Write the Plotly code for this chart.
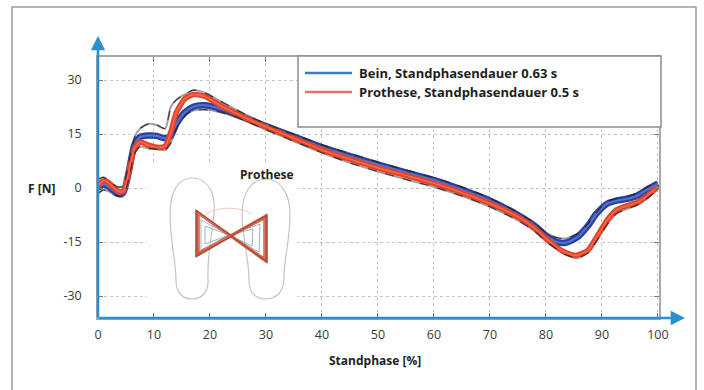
import plotly.graph_objects as go

# ---------------- data ----------------
stance_pct = [0, 1, 2, 3.5, 4.5, 5.5, 6.5, 7.5, 9, 10.5, 12, 13, 14, 15.5, 17, 19, 22, 25, 28, 30,
              35, 40, 45, 50, 55, 60, 65, 70, 75, 78, 80, 82, 83.5, 85.5, 87.5, 89, 91, 92.7,
              94.5, 96.2, 98, 100]

prothese_force = [0.5, 2.2, 1.3, -0.8, -1.0, 4.5, 11.0, 12.8, 11.9, 11.3, 11.6, 15.5, 21.0, 24.8, 26.0,
                  25.5, 22.8, 20.5, 18.3, 17.0, 13.8, 10.6, 8.0, 5.6, 3.5, 1.3, -1.3, -4.3, -8.0,
                  -11.2, -14.0, -16.5, -17.9, -18.7, -17.3, -13.8, -8.8, -6.0, -4.9, -4.1, -2.3, 0.4]

bein_force = [0.0, 1.0, 0.3, -1.5, -1.3, 4.5, 12.0, 14.2, 14.6, 14.5, 13.8, 14.5, 17.8, 21.0, 22.6,
              23.0, 22.0, 20.3, 18.4, 17.2, 14.3, 11.3, 8.8, 6.5, 4.3, 2.2, -0.5, -3.5, -7.5,
              -10.5, -13.3, -15.0, -15.2, -13.8, -10.5, -7.2, -4.3, -3.5, -3.0, -2.2, -0.5, 1.2]

trials_upper = [2.5, 3.0, 2.0, 0.3, 0.5, 7.0, 14.0, 16.5, 17.8, 17.5, 16.5, 22.5, 24.5, 26.0, 27.2,
                26.5, 24.0, 21.5, 19.2, 17.8, 14.8, 12.0, 9.6, 7.2, 5.0, 2.9, 0.3, -2.8, -6.8,
                -9.8, -12.3, -13.8, -14.0, -12.8, -10.0, -6.8, -3.8, -2.8, -2.3, -1.5, 0.2, 1.8]

trials_lower = [-1.5, -0.5, -1.0, -2.3, -2.3, 2.5, 9.5, 11.5, 11.0, 10.8, 10.5, 12.5, 16.5, 20.0, 21.5,
                21.8, 21.0, 19.5, 17.5, 16.2, 13.0, 9.8, 7.0, 4.6, 2.4, 0.3, -2.2, -5.2, -9.0,
                -12.0, -14.8, -17.0, -18.5, -19.5, -18.0, -14.8, -10.0, -7.0, -5.8, -4.8, -3.0, -0.3]

x_ticks = [0, 10, 20, 30, 40, 50, 60, 70, 80, 90, 100]
y_ticks = [-30, -15, 0, 15, 30]
legend_labels = ["Bein, Standphasendauer 0.63 s", "Prothese, Standphasendauer 0.5 s"]

# ---------------- layout geometry ----------------
W, H = 704, 390
L, R, T, B = 98, 659, 57, 318
XR = [0, 100.2]
YR = [-36.1, 36.4]


def pp(px, py):
    """pixel -> paper"""
    return (px - L) / (R - L), (B - py) / (B - T)


def pd(px, py):
    """pixel -> data"""
    x = XR[0] + (px - L) / (R - L) * (XR[1] - XR[0])
    y = YR[1] - (py - T) / (B - T) * (YR[1] - YR[0])
    return x, y


def path_from(cmds):
    out = []
    for c in cmds:
        if isinstance(c, str):
            out.append(c)
        else:
            x, y = pd(*c)
            out.append(f"{x:.3f},{y:.3f}")
    return " ".join(out)


fig = go.Figure()
SPL = dict(shape="spline", smoothing=0.6)

# individual trials (gray + black dashed)
for ys in (trials_upper, trials_lower):
    fig.add_trace(go.Scatter(x=stance_pct, y=ys, mode="lines", line=dict(color="#a0a0a0", width=2.0, **SPL),
                             showlegend=False, hoverinfo="skip"))

# Bein bundle
fig.add_trace(go.Scatter(x=stance_pct, y=bein_force, mode="lines", line=dict(color="#2c3f9c", width=6.5, **SPL),
                         showlegend=False, hoverinfo="skip"))
fig.add_trace(go.Scatter(x=stance_pct, y=bein_force, mode="lines", line=dict(color="#4f74cf", width=2.2, **SPL),
                         showlegend=False, hoverinfo="skip"))
# Prothese bundle
fig.add_trace(go.Scatter(x=stance_pct, y=prothese_force, mode="lines", line=dict(color="#e2432c", width=5.5, **SPL),
                         showlegend=False, hoverinfo="skip"))
fig.add_trace(go.Scatter(x=stance_pct, y=prothese_force, mode="lines", line=dict(color="#f36a48", width=1.6, **SPL),
                         showlegend=False, hoverinfo="skip"))

for ys in (trials_upper, trials_lower):
    fig.add_trace(go.Scatter(x=stance_pct, y=ys, mode="lines",
                             line=dict(color="#222222", width=1.2, dash="dash", **SPL),
                             opacity=0.8, showlegend=False, hoverinfo="skip"))

shapes = []
# outer frame
x0, y0 = pp(12, 7)
x1, y1 = pp(696, 396)
shapes.append(dict(type="rect", xref="paper", yref="paper", x0=x0, y0=y1, x1=x1, y1=y0,
                   line=dict(color="#9c9c9c", width=1.5), fillcolor="rgba(0,0,0,0)", layer="below"))

# white mask behind inset
ax0, ay0 = pd(147, 312)
ax1, ay1 = pd(297, 163)
shapes.append(dict(type="rect", xref="x", yref="y", x0=ax0, y0=ay0, x1=ax1, y1=ay1,
                   line=dict(width=0), fillcolor="white", layer="between"))

# feet outlines
left_foot = ["M", (192, 178), "C", (207, 178), (216, 192), (214, 214), "C", (212, 236), (207, 255), (208, 278),
             "C", (209, 292), (202, 299), (192, 299), "C", (182, 299), (176, 292), (176, 280),
             "C", (176, 262), (170, 240), (170, 214), "C", (170, 192), (178, 178), (192, 178), "Z"]
right_foot = ["M", (266, 179), "C", (280, 179), (290, 193), (290, 214), "C", (290, 240), (284, 258), (284, 278),
              "C", (284, 292), (276, 299), (266, 299), "C", (255, 299), (249, 292), (249, 280),
              "C", (249, 258), (242, 236), (242, 214), "C", (242, 192), (252, 179), (266, 179), "Z"]
for fp in (left_foot, right_foot):
    shapes.append(dict(type="path", xref="x", yref="y", path=path_from(fp),
                       line=dict(color="#c4c4c4", width=1.2), layer="above"))

# butterfly (COP path) - gray inner loops
inner = [
    ["M", (201, 220), "L", (229, 235), "L", (259, 252), "L", (260, 224), "L", (229, 235), "L", (201, 250), "Z"],
    ["M", (205, 226), "L", (229, 235), "L", (252, 246), "L", (253, 229), "L", (229, 235), "L", (205, 244), "Z"],
]
for ip in inner:
    shapes.append(dict(type="path", xref="x", yref="y", path=path_from(ip),
                       line=dict(color="#9fb3bd", width=1), layer="above"))
shapes.append(dict(type="path", xref="x", yref="y",
                   path=path_from(["M", (204, 216), "C", (215, 206), (240, 206), (252, 214)]),
                   line=dict(color="#efc9bd", width=1), layer="above"))
outer_loops = [
    (["M", (197, 212), "L", (266, 261), "L", (266, 216), "L", (197, 255), "Z"], "#c65a43", 3.2),
    (["M", (199, 214), "L", (264, 258), "L", (264, 219), "L", (199, 252), "Z"], "#d8694f", 1.6),
    (["M", (196, 210), "L", (267, 262), "L", (267, 215), "L", (196, 257), "Z"], "#9c4a3a", 1.0),
]
for op, col, wdt in outer_loops:
    shapes.append(dict(type="path", xref="x", yref="y", path=path_from(op),
                       line=dict(color=col, width=wdt), layer="above"))

# legend box
lx0, ly0 = pp(298, 127)
lx1, ly1 = pp(661, 56)
shapes.append(dict(type="rect", xref="paper", yref="paper", x0=lx0, y0=ly0, x1=lx1, y1=ly1,
                   line=dict(color="#8c8c8c", width=1.5), fillcolor="white", layer="above"))
legend_colors = ["#3a7cc6", "#e0785a"]
legend_rows = [73, 92]
for col, row in zip(legend_colors, legend_rows):
    a, b = pp(305, row)
    c, _ = pp(352, row)
    shapes.append(dict(type="line", xref="paper", yref="paper", x0=a, y0=b, x1=c, y1=b,
                       line=dict(color=col, width=2.5), layer="above"))

annotations = []
for text, row in zip(legend_labels, legend_rows):
    a, b = pp(357, row)
    annotations.append(dict(xref="paper", yref="paper", x=a, y=b, text=f"<b>{text}</b>", showarrow=False,
                            xanchor="left", yanchor="middle",
                            font=dict(family="Open Sans", size=13, color="#1e1e1e")))

# axis arrows
hx, hy = pp(685, 318)
annotations.append(dict(xref="paper", yref="paper", x=hx, y=hy, ax=-(685 - 97), ay=0, text="",
                        showarrow=True, arrowhead=2, arrowsize=1.1, arrowwidth=2.6, arrowcolor="#2b8fcd"))
vx, vy = pp(98, 36)
annotations.append(dict(xref="paper", yref="paper", x=vx, y=vy, ax=0, ay=(319 - 36), text="",
                        showarrow=True, arrowhead=2, arrowsize=1.1, arrowwidth=2.6, arrowcolor="#2b8fcd"))

# axis titles and inset label
fx, fy = pp(41, 188)
annotations.append(dict(xref="paper", yref="paper", x=fx, y=fy, text="<b>F [N]</b>", showarrow=False,
                        xanchor="center", yanchor="middle", font=dict(family="Open Sans", size=12, color="#222")))
sx, sy = pp(375, 360)
annotations.append(dict(xref="paper", yref="paper", x=sx, y=sy, text="<b>Standphase [%]</b>", showarrow=False,
                        xanchor="center", yanchor="middle", font=dict(family="Open Sans", size=12, color="#222")))
px_, py_ = pp(267, 174)
annotations.append(dict(xref="paper", yref="paper", x=px_, y=py_, text="<b>Prothese</b>", showarrow=False,
                        xanchor="center", yanchor="middle", font=dict(family="Open Sans", size=12, color="#222")))

fig.update_layout(
    width=W, height=H, autosize=False,
    margin=dict(l=L, r=W - R, t=T, b=H - B, pad=0),
    paper_bgcolor="white", plot_bgcolor="white",
    showlegend=False,
    shapes=shapes, annotations=annotations,
    font=dict(family="Open Sans", size=12, color="#333"),
)
fig.update_xaxes(range=XR, tickmode="array", tickvals=x_ticks, ticktext=[str(v) for v in x_ticks],
                 showgrid=True, gridcolor="#c4c4c4", griddash="dot", gridwidth=1, zeroline=False,
                 showline=True, linecolor="#a8a8a8", linewidth=1.5, mirror="ticks",
                 ticks="inside", ticklen=5, tickcolor="#777", ticklabelstandoff=4,
                 tickfont=dict(family="Open Sans", size=12.5, color="#3a3a3a"))
fig.update_yaxes(range=YR, tickmode="array", tickvals=y_ticks, ticktext=[str(v) for v in y_ticks],
                 showgrid=True, gridcolor="#c4c4c4", griddash="dot", gridwidth=1, zeroline=False,
                 showline=True, linecolor="#a8a8a8", linewidth=1.5, mirror="ticks",
                 ticks="inside", ticklen=5, tickcolor="#777", ticklabelstandoff=12,
                 tickfont=dict(family="Open Sans", size=12.5, color="#3a3a3a"))

fig.write_html("out.html", config={"displayModeBar": False},
               post_script="document.body.style.margin='0';document.body.style.padding='0';")
